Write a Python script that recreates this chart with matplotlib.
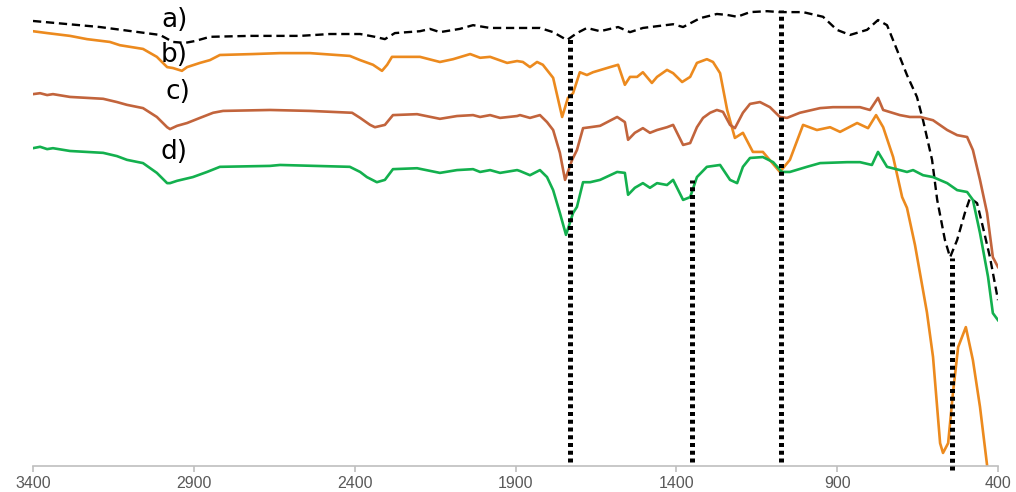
import matplotlib
matplotlib.use("Agg")
import numpy as np
import matplotlib.pyplot as plt

# FTIR spectra, wavenumber (cm-1) vs transmittance (arb. %)
wn_a = [3400, 3192, 3005, 2965, 2927, 2896, 2850, 2725, 2570, 2477, 2383, 2337, 2306, 2275,
        2197, 2166, 2135, 2073, 2032, 1979, 1948, 1824, 1783, 1740, 1709, 1678, 1637, 1581,
        1544, 1504, 1410, 1379, 1326, 1274, 1242, 1211, 1171, 1118, 1078, 1006, 944, 901,
        860, 807, 773, 745, 714, 683, 652, 633, 605, 589, 565, 549, 527, 503, 487, 465,
        447, 425, 400]
t_a = [95.5, 94.2, 92.5, 91.0, 90.8, 91.2, 92.1, 92.3, 92.3, 92.7, 92.7, 92.1, 91.6, 92.9,
       93.3, 93.8, 93.1, 93.8, 94.6, 94.0, 94.0, 94.0, 93.1, 91.4, 92.9, 94.0, 93.3, 94.2,
       93.1, 94.0, 94.8, 94.2, 96.1, 97.0, 96.8, 96.4, 97.4, 97.6, 97.4, 97.4, 96.4, 93.6,
       92.5, 93.6, 95.7, 94.6, 89.3, 83.9, 79.2, 74.2, 65.7, 57.1, 48.5, 44.8, 48.5, 54.3,
       57.5, 56.4, 51.3, 44.8, 35.6]

wn_b = [3400, 3378, 3356, 3285, 3232, 3161, 3130, 3058, 3015, 2983, 2965, 2937, 2921, 2881,
        2850, 2819, 2716, 2632, 2539, 2415, 2383, 2343, 2315, 2299, 2284, 2197, 2135, 2094,
        2041, 2010, 1979, 1926, 1895, 1877, 1855, 1833, 1815, 1783, 1755, 1737, 1721, 1700,
        1678, 1659, 1606, 1581, 1560, 1544, 1522, 1504, 1476, 1460, 1429, 1410, 1382, 1357,
        1336, 1305, 1286, 1264, 1242, 1218, 1193, 1162, 1131, 1078, 1047, 1006, 963, 922,
        891, 838, 804, 779, 757, 726, 698, 683, 658, 621, 602, 580, 571, 555, 540, 524,
        500, 478, 456, 434]
t_b = [93.3, 93.1, 92.9, 92.3, 91.6, 91.0, 90.3, 89.5, 87.8, 85.6, 85.4, 84.8, 85.6, 86.5,
       87.1, 88.2, 88.4, 88.6, 88.6, 88.0, 87.1, 86.1, 84.8, 86.1, 87.8, 87.8, 86.7, 87.3,
       88.4, 87.6, 87.8, 86.5, 86.9, 86.7, 85.6, 86.7, 86.1, 83.3, 74.9, 79.0, 80.0, 84.5,
       83.9, 84.5, 85.6, 86.1, 81.8, 83.5, 83.5, 84.5, 82.2, 83.5, 85.0, 84.3, 82.4, 83.5,
       86.5, 87.3, 86.7, 84.3, 76.4, 70.4, 71.5, 67.4, 67.4, 63.1, 65.7, 73.2, 72.1, 72.7,
       71.7, 73.6, 72.5, 75.3, 72.7, 66.3, 57.7, 55.4, 47.4, 33.0, 23.4, 4.9, 2.8, 4.9,
       15.7, 25.5, 29.8, 22.7, 12.7, 0.2]

wn_c = [3400, 3378, 3356, 3338, 3285, 3182, 3139, 3108, 3058, 3015, 2983, 2974, 2952, 2921,
        2881, 2840, 2809, 2663, 2539, 2408, 2383, 2352, 2337, 2306, 2281, 2206, 2135, 2082,
        2032, 2010, 1979, 1948, 1895, 1886, 1855, 1824, 1802, 1783, 1762, 1746, 1724, 1709,
        1690, 1668, 1637, 1584, 1560, 1550, 1529, 1504, 1482, 1460, 1429, 1410, 1379, 1357,
        1336, 1317, 1295, 1274, 1255, 1233, 1218, 1193, 1171, 1140, 1109, 1078, 1056, 1016,
        953, 913, 829, 798, 773, 757, 705, 674, 642, 602, 558, 527, 496, 478, 456, 434,
        416, 400]
t_c = [79.8, 80.0, 79.6, 79.8, 79.2, 78.8, 78.1, 77.5, 76.8, 74.9, 72.7, 72.3, 73.0, 73.6,
       74.7, 75.8, 76.2, 76.4, 76.2, 75.8, 74.7, 73.2, 72.7, 73.2, 75.3, 75.5, 74.5, 75.1,
       75.3, 74.9, 75.3, 74.7, 75.1, 75.3, 74.7, 75.3, 73.8, 72.1, 67.2, 61.4, 65.7, 67.8,
       72.5, 72.7, 73.0, 74.9, 73.8, 70.0, 71.5, 72.5, 71.5, 72.1, 72.7, 73.2, 68.9, 69.3,
       72.7, 74.7, 75.8, 76.4, 76.0, 73.2, 72.5, 75.8, 77.7, 78.1, 77.0, 74.9, 74.7, 75.8,
       76.8, 77.0, 77.0, 76.4, 79.0, 76.4, 75.3, 74.9, 74.9, 74.2, 72.1, 71.0, 70.6, 67.8,
       61.4, 54.3, 44.8, 42.7]

wn_d = [3400, 3378, 3356, 3338, 3285, 3182, 3139, 3108, 3058, 3015, 2983, 2974, 2952, 2903,
        2859, 2819, 2663, 2632, 2415, 2383, 2362, 2331, 2306, 2281, 2206, 2135, 2082, 2032,
        2010, 1979, 1948, 1895, 1886, 1855, 1824, 1802, 1783, 1762, 1743, 1721, 1709, 1690,
        1668, 1637, 1584, 1560, 1550, 1529, 1504, 1482, 1460, 1429, 1410, 1379, 1357, 1336,
        1305, 1264, 1233, 1211, 1193, 1171, 1131, 1099, 1072, 1047, 994, 953, 869, 829,
        792, 773, 745, 705, 683, 664, 633, 602, 558, 527, 496, 478, 456, 431, 416, 400]
t_d = [68.2, 68.5, 68.0, 68.2, 67.6, 67.2, 66.5, 65.7, 65.0, 62.9, 60.7, 60.7, 61.2, 62.0,
       63.1, 64.2, 64.4, 64.6, 64.2, 63.1, 62.0, 60.9, 61.4, 63.7, 63.9, 62.9, 63.5, 63.7,
       63.1, 63.5, 62.9, 63.5, 63.3, 62.4, 63.5, 62.0, 59.2, 54.3, 49.6, 54.3, 55.6, 60.9,
       60.9, 61.4, 63.1, 62.9, 58.2, 59.7, 60.7, 59.7, 60.7, 60.3, 61.4, 57.1, 57.7, 62.0,
       64.2, 64.6, 61.4, 60.7, 64.2, 66.1, 66.3, 65.2, 63.1, 63.1, 64.2, 65.0, 65.2, 65.2,
       64.6, 67.4, 64.2, 63.5, 63.1, 63.5, 62.4, 62.0, 60.7, 59.2, 58.8, 57.1, 50.0, 40.6,
       32.8, 31.3]

labels = ["a)", "b)", "c)", "d)"]
label_wn = [2959, 2962, 2949, 2962]
label_t = [95.7, 88.2, 80.3, 67.4]

# marked bands
band_wn = [1730, 1350, 1075, 543]
band_top = [91.8, 61.4, 97.9, 44.6]
band_bottom = [0.9, 0.9, 0.9, -0.9]

ticks = [3400, 2900, 2400, 1900, 1400, 900, 400]

fig = plt.figure(figsize=(10.16, 4.92), dpi=100)
ax = fig.add_axes([33 / 1016, 26 / 492, 965 / 1016, 466 / 492])

ax.plot(wn_a, t_a, color="black", lw=1.7, dashes=(3.5, 2.0))
ax.plot(wn_b, t_b, color="#EC8A1E", lw=1.9)
ax.plot(wn_c, t_c, color="#C2643C", lw=1.9)
ax.plot(wn_d, t_d, color="#13B04E", lw=1.9)

for w, top, bot in zip(band_wn, band_top, band_bottom):
    ax.plot([w, w], [bot, top], color="black", lw=3.6, dashes=(0.8, 0.75),
            solid_capstyle="butt", dash_capstyle="butt", clip_on=False, zorder=5)

for lab, x, y in zip(labels, label_wn, label_t):
    ax.text(x, y, lab, fontsize=19, ha="center", va="center", color="black")

ax.set_xlim(3400, 400)
ax.set_ylim(0, 100)
ax.set_xticks(ticks)
ax.set_xticklabels([str(t) for t in ticks], fontfamily="Liberation Sans",
                   fontsize=11.5, color="#595959")
ax.set_yticks([])
for s in ["left", "right", "top"]:
    ax.spines[s].set_visible(False)
ax.spines["bottom"].set_color("#BFBFBF")
ax.spines["bottom"].set_linewidth(1.2)
ax.tick_params(axis="x", direction="out", length=4, width=1.2, color="#BFBFBF", pad=3)

fig.savefig("out.png", dpi=100)
